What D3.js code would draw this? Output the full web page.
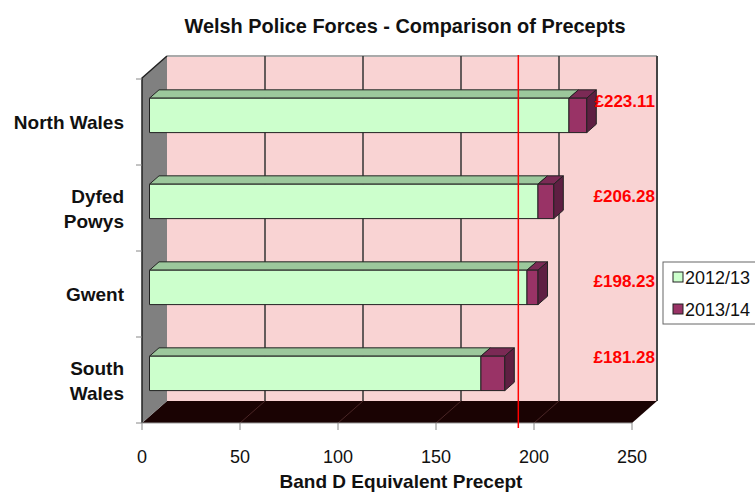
<!DOCTYPE html>
<html>
<head>
<meta charset="utf-8">
<script src="https://cdn.jsdelivr.net/npm/d3@7"></script>
<style>
    body { margin: 0; background: #fff; }
    text { font-family: "Liberation Sans", Arial, sans-serif; }
</style>
</head>
<body>
<svg id="chart" width="755" height="494"></svg>
<script>
// data
const forces = ["North Wales", "Dyfed Powys", "Gwent", "South Wales"];
const precept2012 = [214.0, 198.2, 192.6, 169.1];
const precept2013 = [223.11, 206.28, 198.23, 181.28];
const seriesNames = ["2012/13", "2013/14"];
const xTicks = [0, 50, 100, 150, 200, 250];
const referenceValue = 192;

// layout
const WIDTH = 755, HEIGHT = 494;
const FRONT = { left: 142, right: 632, top: 78, bottom: 423 };
const DEPTH = { x: 25, y: -22 };
const BAR_DEPTH = [0.3, 0.68];
const WRAPPED = new Set(["Dyfed Powys", "South Wales"]);
const LABEL_NUDGE = [-14, -5, -6, -16];

const COLOR = {
    wall: "#f9d3d3",
    side: "#808080",
    floor: "#1a0303",
    green: ["#ccffcc", "#9cc89c"],
    purple: ["#993366", "#7b2a55", "#5e1f42"],
    edge: "#222"
};

const svg = d3.select("#chart");
svg.append("rect").attr("width", WIDTH).attr("height", HEIGHT).attr("fill", "#fff");

const x = d3.scaleLinear()
    .domain([0, 250])
    .range([FRONT.left, FRONT.right]);

const y = d3.scaleBand()
    .domain(forces)
    .range([FRONT.top + 1, FRONT.bottom])
    .paddingInner(0.6)
    .paddingOuter(0.3);

// point at value v, depth fraction f, front-plane y
const px = (v, f) => x(v) + f * DEPTH.x;
const py = (yy, f) => yy + f * DEPTH.y;
const pt = (v, f, yy) => [px(v, f), py(yy, f)];
const poly = pts => pts.map(p => p.join(",")).join(" ");

const walls = svg.append("g").attr("class", "walls");

// back wall
walls.append("rect")
    .attr("x", px(0, 1))
    .attr("y", py(FRONT.top, 1))
    .attr("width", px(250, 1) - px(0, 1))
    .attr("height", FRONT.bottom - FRONT.top)
    .attr("fill", COLOR.wall);

walls.append("line")
    .attr("x1", px(0, 1)).attr("x2", px(250, 1))
    .attr("y1", py(FRONT.top, 1)).attr("y2", py(FRONT.top, 1))
    .attr("stroke", "#aaa").attr("stroke-width", 2);

walls.append("line")
    .attr("x1", px(250, 1)).attr("x2", px(250, 1))
    .attr("y1", py(FRONT.top, 1)).attr("y2", py(FRONT.bottom, 1))
    .attr("stroke", "#444").attr("stroke-width", 2);

// back wall grid
walls.selectAll(".grid")
    .data(xTicks.slice(1, -1))
    .enter()
    .append("line")
    .attr("class", "grid")
    .attr("x1", d => px(d, 1)).attr("x2", d => px(d, 1))
    .attr("y1", py(FRONT.top, 1)).attr("y2", py(FRONT.bottom, 1))
    .attr("stroke", "#333").attr("stroke-width", 1.5);

// floor
walls.append("polygon")
    .attr("points", poly([pt(0, 0, FRONT.bottom), pt(0, 1, FRONT.bottom), pt(250, 1, FRONT.bottom), pt(250, 0, FRONT.bottom)]))
    .attr("fill", COLOR.floor);

walls.selectAll(".floor-grid")
    .data(xTicks.slice(1, -1))
    .enter()
    .append("line")
    .attr("class", "floor-grid")
    .attr("x1", d => px(d, 1)).attr("y1", py(FRONT.bottom, 1))
    .attr("x2", d => px(d, 0)).attr("y2", FRONT.bottom)
    .attr("stroke", "#4a2626").attr("stroke-width", 1);

// left wall
walls.append("polygon")
    .attr("points", poly([pt(0, 0, FRONT.top), pt(0, 1, FRONT.top), pt(0, 1, FRONT.bottom), pt(0, 0, FRONT.bottom)]))
    .attr("fill", COLOR.side);

walls.append("polyline")
    .attr("points", poly([pt(0, 0, FRONT.bottom), pt(0, 0, FRONT.top), pt(0, 1, FRONT.top)]))
    .attr("fill", "none").attr("stroke", COLOR.edge).attr("stroke-width", 1.5);

// axes
const axes = svg.append("g").attr("class", "axes");

axes.append("line")
    .attr("x1", x(0)).attr("x2", x(250))
    .attr("y1", FRONT.bottom).attr("y2", FRONT.bottom)
    .attr("stroke", "#999");

axes.selectAll(".x-tick")
    .data(xTicks)
    .enter()
    .append("line")
    .attr("class", "x-tick")
    .attr("x1", d => x(d)).attr("x2", d => x(d))
    .attr("y1", FRONT.bottom).attr("y2", FRONT.bottom + 7)
    .attr("stroke", "#888");

axes.selectAll(".x-label")
    .data(xTicks)
    .enter()
    .append("text")
    .attr("class", "x-label")
    .attr("x", d => x(d))
    .attr("y", 463)
    .attr("text-anchor", "middle")
    .attr("font-size", 18)
    .attr("fill", "#111")
    .text(d => d);

const step = y.step();
axes.selectAll(".y-tick")
    .data(d3.range(forces.length + 1))
    .enter()
    .append("line")
    .attr("class", "y-tick")
    .attr("x1", FRONT.left - 6).attr("x2", FRONT.left)
    .attr("y1", i => FRONT.top + 1 + i * step).attr("y2", i => FRONT.top + 1 + i * step)
    .attr("stroke", "#888");

forces.forEach(name => {
    const c = y(name) + y.bandwidth() / 2;
    const lines = WRAPPED.has(name) ? name.split(" ") : [name];
    const first = lines.length > 1 ? c - 5.5 : c + 7;
    const label = axes.append("text")
        .attr("text-anchor", "end")
        .attr("font-size", 19)
        .attr("font-weight", "bold")
        .attr("fill", "#111");
    lines.forEach((line, i) => {
        label.append("tspan")
            .attr("x", 124)
            .attr("y", first + i * 25)
            .text(line);
    });
});

// bars
const bars = svg.append("g").attr("class", "bars");
const [f0, f1] = BAR_DEPTH;

forces.forEach((name, i) => {
    const top = y(name);
    const bottom = top + y.bandwidth();
    const segments = [
        { from: 0, to: precept2012[i], colors: COLOR.green },
        { from: precept2012[i], to: precept2013[i], colors: COLOR.purple }
    ];

    segments.forEach((s, k) => {
        const g = bars.append("g");
        g.append("polygon")
            .attr("points", poly([pt(s.from, f0, top), pt(s.to, f0, top), pt(s.to, f1, top), pt(s.from, f1, top)]))
            .attr("fill", s.colors[1]);
        g.append("polygon")
            .attr("points", poly([pt(s.from, f0, top), pt(s.to, f0, top), pt(s.to, f0, bottom), pt(s.from, f0, bottom)]))
            .attr("fill", s.colors[0]);
        if (k === segments.length - 1) {
            g.append("polygon")
                .attr("points", poly([pt(s.to, f0, top), pt(s.to, f1, top), pt(s.to, f1, bottom), pt(s.to, f0, bottom)]))
                .attr("fill", s.colors[2]);
        }
        g.selectAll("polygon")
            .attr("stroke", COLOR.edge)
            .attr("stroke-width", 1)
            .attr("stroke-linejoin", "round");
    });

    bars.append("text")
        .attr("x", 655)
        .attr("y", py((top + bottom) / 2, f0) + LABEL_NUDGE[i] + 6)
        .attr("text-anchor", "end")
        .attr("font-size", 17)
        .attr("font-weight", "bold")
        .attr("fill", "#ff0000")
        .text("£" + precept2013[i].toFixed(2));
});

// reference line
svg.append("line")
    .attr("x1", x(referenceValue)).attr("x2", x(referenceValue))
    .attr("y1", FRONT.top - 23).attr("y2", FRONT.bottom + 5)
    .attr("stroke", "#ff0000").attr("stroke-width", 1.5);

// titles
svg.append("text")
    .attr("x", 405)
    .attr("y", 33)
    .attr("text-anchor", "middle")
    .attr("font-size", 21)
    .attr("font-weight", "bold")
    .attr("textLength", 441)
    .attr("lengthAdjust", "spacingAndGlyphs")
    .attr("fill", "#111")
    .text("Welsh Police Forces - Comparison of Precepts");

svg.append("text")
    .attr("x", 401)
    .attr("y", 488)
    .attr("text-anchor", "middle")
    .attr("font-size", 19)
    .attr("font-weight", "bold")
    .attr("fill", "#111")
    .text("Band D Equivalent Precept");

// legend
const legend = svg.append("g").attr("transform", "translate(663,262)");
legend.append("rect")
    .attr("width", 110).attr("height", 62)
    .attr("fill", "#fff").attr("stroke", "#666");

const item = legend.selectAll(".item")
    .data(seriesNames)
    .enter()
    .append("g")
    .attr("class", "item")
    .attr("transform", (d, i) => `translate(10,${ 10 + i * 32 })`);

item.append("rect")
    .attr("width", 10).attr("height", 10)
    .attr("fill", (d, i) => i === 0 ? COLOR.green[0] : COLOR.purple[0])
    .attr("stroke", "#222");

item.append("text")
    .attr("x", 12)
    .attr("y", 12)
    .attr("font-size", 18)
    .attr("fill", "#111")
    .text(d => d);
</script>
</body>
</html>
